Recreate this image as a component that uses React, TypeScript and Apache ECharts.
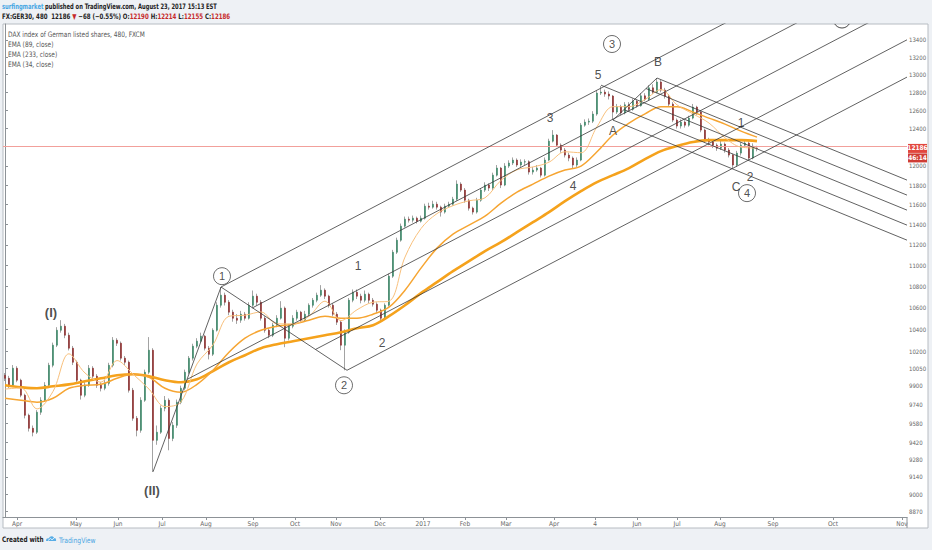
import React, { useEffect, useRef } from "react";
import * as echarts from "echarts";

const FONT = '"Liberation Sans Narrow", "DejaVu Sans Condensed", "Liberation Sans", Arial, sans-serif';
const LABEL_FONT = '"Liberation Sans", Arial, sans-serif';

// ---- candles (one candle ~ two trading days) ----
const opens = [9990,9964,9903,10052,9947,9817,9646,9537,9504,9672,9774,9903,10078,10257,10392,10429,10347,10230,10105,9947,9817,9903,10052,9982,9903,9877,9920,10078,10302,10275,10141,10105,9860,9621,9520,9774,10017,10212,9437,9504,9706,9774,9453,9562,9757,9877,10017,10141,10248,10293,10338,10230,10176,10392,10622,10716,10650,10558,10502,10484,10539,10502,10622,10707,10650,10502,10392,10347,10438,10502,10595,10320,10429,10502,10558,10484,10539,10622,10669,10716,10763,10707,10622,10539,10466,10257,10374,10669,10744,10707,10669,10725,10669,10632,10576,10502,10622,10896,11127,11245,11384,11454,11444,11464,11434,11464,11585,11575,11605,11575,11525,11585,11605,11656,11811,11749,11646,11565,11525,11646,11749,11801,11770,11904,11978,11801,11999,12031,12062,12010,12041,12045,11936,11957,11978,11904,12062,12264,12329,12221,12168,12115,12083,12010,12062,12437,12470,12480,12558,12791,12802,12780,12758,12580,12640,12570,12660,12610,12700,12650,12760,12720,12850,12800,12916,12825,12758,12668,12492,12427,12470,12437,12514,12635,12580,12383,12275,12254,12221,12189,12232,12168,12115,12010,12136,12221,12243,12083,12190];
const highs = [10010,9985,10080,10070,9960,9830,9660,9560,9690,9800,9930,10100,10280,10420,10484,10450,10370,10250,10120,9960,9930,10080,10070,10000,9930,9950,10100,10330,10320,10290,10160,10120,9880,9640,9800,10040,10330,10230,9560,9730,9810,9790,9590,9780,9900,10040,10160,10270,10320,10370,10350,10250,10410,10650,10793,10740,10670,10580,10540,10570,10560,10650,10760,10730,10670,10520,10410,10460,10530,10660,10610,10450,10530,10580,10570,10570,10640,10690,10740,10811,10780,10720,10640,10560,10480,10400,10690,10770,10770,10730,10760,10740,10690,10650,10590,10640,10920,11150,11270,11410,11480,11480,11490,11480,11490,11610,11620,11640,11630,11590,11610,11630,11680,11850,11830,11770,11660,11580,11670,11770,11830,11820,11930,12010,11990,12030,12060,12090,12080,12070,12070,12060,11990,12010,11990,12090,12290,12383,12340,12240,12190,12140,12100,12090,12460,12500,12510,12590,12820,12871,12830,12810,12770,12670,12660,12690,12690,12730,12720,12790,12790,12880,12890,12961,12940,12850,12780,12690,12510,12500,12490,12540,12670,12650,12600,12400,12300,12280,12240,12270,12250,12190,12130,12160,12250,12280,12260,12240,12214];
const lows = [9940,9880,9890,9930,9800,9620,9510,9470,9490,9650,9760,9890,10060,10240,10370,10320,10210,10080,9920,9780,9800,9890,9960,9880,9850,9860,9900,10060,10250,10120,10080,9840,9600,9470,9500,9760,10000,9180,9400,9490,9680,9355,9430,9540,9740,9860,10000,10120,10230,10280,10210,10130,10160,10380,10600,10620,10530,10470,10450,10460,10480,10490,10600,10620,10480,10370,10320,10330,10420,10490,10239,10300,10410,10480,10460,10470,10520,10600,10650,10700,10680,10600,10520,10440,10212,10034,10360,10650,10680,10640,10650,10640,10610,10550,10466,10490,10610,10880,11110,11230,11370,11420,11420,11410,11420,11450,11550,11560,11550,11480,11510,11570,11590,11640,11730,11620,11540,11500,11510,11630,11730,11740,11750,11890,11770,11790,11980,12010,11990,11990,12010,11910,11910,11940,11880,11890,12050,12250,12200,12140,12090,12050,11978,11990,12050,12420,12440,12460,12540,12770,12750,12720,12492,12560,12545,12555,12590,12595,12630,12640,12700,12710,12780,12790,12800,12730,12640,12470,12400,12400,12410,12420,12500,12550,12360,12250,12220,12190,12160,12170,12140,12090,11978,11990,12110,12200,12060,12070,12155];
const closes = [9964,9903,10052,9947,9817,9646,9537,9504,9672,9774,9903,10078,10257,10392,10429,10347,10230,10105,9947,9817,9903,10052,9982,9903,9877,9920,10078,10302,10275,10141,10105,9860,9621,9520,9774,10017,10212,9437,9504,9706,9774,9453,9562,9757,9877,10017,10141,10248,10293,10338,10230,10176,10392,10622,10716,10650,10558,10502,10484,10539,10502,10622,10707,10650,10502,10392,10347,10438,10502,10595,10320,10429,10502,10558,10484,10539,10622,10669,10716,10763,10707,10622,10539,10466,10257,10374,10669,10744,10707,10669,10725,10669,10632,10576,10502,10622,10896,11127,11245,11384,11454,11444,11464,11434,11464,11585,11575,11605,11575,11525,11585,11605,11656,11811,11749,11646,11565,11525,11646,11749,11801,11770,11904,11978,11801,11999,12031,12062,12010,12041,12045,11936,11957,11978,11904,12062,12264,12329,12221,12168,12115,12083,12010,12062,12437,12470,12480,12558,12791,12802,12780,12758,12580,12640,12570,12660,12610,12700,12650,12760,12720,12850,12800,12916,12825,12758,12668,12492,12427,12470,12437,12514,12635,12580,12383,12275,12254,12221,12189,12232,12168,12115,12010,12136,12221,12243,12083,12211,12186];

// ---- EMA readings (sampled every 4 candles) ----
const emaIndex = [0,4,8,12,16,20,24,28,32,36,40,44,48,52,56,60,64,68,72,76,80,84,88,92,96,100,104,108,112,116,120,124,128,132,136,140,144,148,152,156,160,164,168,172,176,180,184,188];
const ema89 = [9791,9774,9757,9791,9877,9903,9911,9964,9999,9973,9877,9843,9911,10034,10194,10320,10392,10429,10447,10484,10521,10502,10502,10539,10604,10763,10973,11167,11305,11394,11484,11615,11728,11811,11894,11957,11999,12150,12330,12460,12560,12640,12640,12580,12514,12448,12372,12307];
const ema233 = [9903,9886,9877,9894,9911,9938,9964,9990,9999,9982,9947,9929,9955,10026,10105,10167,10230,10266,10293,10320,10347,10374,10411,10438,10521,10622,10735,10839,10944,11040,11137,11225,11324,11424,11525,11636,11739,11832,11904,11978,12072,12157,12211,12254,12275,12275,12275,12264];
const ema34 = [9870,9880,9700,9850,10180,10010,9930,10120,10000,9870,9720,9760,10090,10260,10520,10530,10560,10450,10450,10520,10660,10480,10580,10650,10660,11080,11360,11510,11590,11640,11670,11850,11960,11990,12040,12150,12140,12420,12640,12640,12720,12830,12660,12560,12460,12300,12200,12190];

// ---- axes ----
const monthTicks = [3,17.75,28.25,39.25,50.25,62,72.5,82.75,93.75,104.5,115,125.25,137.25,147.5,158,168,178.75,192,207,224.25];
const monthLabels = ["Apr","May","Jun","Jul","Aug","Sep","Oct","Nov","Dec","2017","Feb","Mar","Apr","4","Jun","Jul","Aug","Sep","Oct","Nov"];
const priceTicks = [13400,13200,13000,12800,12600,12400,12000,11800,11600,11400,11200,11000,10800,10600,10400,10200,10050,9900,9740,9580,9420,9280,9140,9000,8870];
const lastPrice = 12186;
const countdown = "46:14";

// ---- drawings: pitchfork anchors [candle index, price] ----
const schiffFork = [[37, 9180], [54, 10793], [85.5, 10034]];
const andrewsFork = [[149, 12880], [152, 12492], [163, 12961]];
const forkLevels = [-1, -0.5, 0, 0.5, 1];

// ---- wave labels ----
const waveText = ["(I)", "(II)", "1", "2", "3", "4", "5", "A", "B", "C", "1", "2"];
const waveX = [11.5, 36.75, 88.25, 94.25, 136.25, 142, 148.25, 152, 163.25, 182.75, 184, 186.25];
const waveY = [10557, 9033, 10991, 10275, 12514, 11790, 12995, 12372, 13144, 11780, 12459, 11883];
const circleText = ["1", "2", "3", "4"];
const circleX = [54.25, 84.75, 151.75, 185.5];
const circleY = [10896, 9903, 13353, 11718];

const XMIN = -0.5;
const XMAX = 225.5;
const YMIN = 8824;
const YMAX = 13589;
const L = Math.log;

const UP = "#3d8a69";
const DOWN = "#8e2e2e";
const WICK = "#a3a3a3";
const LINE = "#3a3a3a";
const BG = "#eef1f5";

function forkSegments(anchors: number[][], schiff: boolean) {
  const P = anchors.map(([x, p]) => [x, L(p)]);
  const [P0, P1, P2] = P;
  const M = [(P1[0] + P2[0]) / 2, (P1[1] + P2[1]) / 2];
  const S = schiff ? [(P0[0] + P1[0]) / 2, (P0[1] + P1[1]) / 2] : P0;
  const slope = (M[1] - S[1]) / (M[0] - S[0]);
  const segs: number[][][] = forkLevels.map((k) => {
    const q = k === 0 ? S : [M[0] + k * (P2[0] - M[0]), M[1] + k * (P2[1] - M[1])];
    return [q, [XMAX, q[1] + slope * (XMAX - q[0])]];
  });
  segs.push([P1, P2]);
  if (schiff) segs.push([P0, P1]);
  return segs;
}

let logoRegistered = false;
function registerLogo() {
  if (logoRegistered) return;
  const d = "M0,9 C0,6 2,5 4,5.5 C5,2 9.5,1 11,4.5 C13,4.2 14.5,6 14,9 Z";
  echarts.graphic.registerShape("tvlogo", echarts.graphic.extendPath(d, {}) as any);
  logoRegistered = true;
}

export default function App() {
  const ref = useRef<HTMLDivElement>(null);
  useEffect(() => {
    if (!ref.current) return;
    registerLogo();
    const chart = echarts.init(ref.current, undefined, { renderer: "svg" });

    const idx = closes.map((_, i) => i);
    const wickData = idx.map((i) => [i, L(opens[i]), L(closes[i]), L(lows[i]), L(highs[i])]);
    const bodyData = idx.map((i) => [
      i,
      L(opens[i]),
      L(closes[i]),
      L(Math.min(opens[i], closes[i])),
      L(Math.max(opens[i], closes[i])),
    ]);
    const emaLine = (vals: number[], color: string, width: number, z: number) => ({
      type: "line",
      data: emaIndex.map((x, k) => [x, L(vals[k])]),
      symbol: "none",
      smooth: 0.35,
      lineStyle: { color, width },
      silent: true,
      z,
    });
    const segs = [...forkSegments(schiffFork, true), ...forkSegments(andrewsFork, false)];
    const forkSeries = segs.map((s) => ({
      type: "line",
      data: s,
      symbol: "none",
      lineStyle: { color: LINE, width: 0.8 },
      silent: true,
      z: 6,
    }));

    const labelFor = (v: number) => {
      let best = 0;
      for (let i = 1; i < monthTicks.length; i++) {
        if (Math.abs(monthTicks[i] - v) < Math.abs(monthTicks[best] - v)) best = i;
      }
      return monthLabels[best];
    };

    const textG = (id: string, x: number, y: number, text: string, extra: any = {}, sx = 1) => ({
      type: "text",
      id,
      x,
      y,
      scaleX: sx,
      z: 60,
      style: {
        text,
        fill: "#555",
        fontSize: 7.5,
        fontFamily: FONT,
        verticalAlign: "middle",
        ...extra,
      },
    });

    const option: any = {
      animation: false,
      backgroundColor: BG,
      grid: { left: 3, right: 25, top: 24, bottom: 33, containLabel: false },
      xAxis: {
        type: "value",
        min: XMIN,
        max: XMAX,
        axisLine: { show: true, lineStyle: { color: "#8d9297", width: 1 } },
        axisTick: { show: true, customValues: monthTicks, length: 3, lineStyle: { color: "#8d9297" } },
        axisLabel: {
          show: true,
          customValues: monthTicks,
          formatter: (v: number) => labelFor(v),
          fontSize: 6.5,
          color: "#666",
          margin: 3,
          fontFamily: FONT,
        },
        splitLine: { show: false },
      },
      yAxis: {
        type: "value",
        position: "right",
        min: L(YMIN),
        max: L(YMAX),
        axisLine: { show: true, lineStyle: { color: "#8d9297", width: 1 } },
        axisTick: { show: true, customValues: priceTicks.map(L), length: 3, lineStyle: { color: "#8d9297" } },
        axisLabel: {
          show: true,
          customValues: priceTicks.map(L),
          formatter: (v: number) => String(Math.round(Math.exp(v))),
          fontSize: 6,
          color: "#666",
          margin: 2,
          fontFamily: FONT,
        },
        splitLine: { show: false },
      },
      series: [
        {
          type: "candlestick",
          data: wickData,
          encode: { x: 0, y: [1, 2, 3, 4] },
          barWidth: 1,
          itemStyle: { color: WICK, color0: WICK, borderColor: WICK, borderColor0: WICK, borderWidth: 1 },
          silent: true,
          z: 3,
        },
        {
          type: "candlestick",
          data: bodyData,
          encode: { x: 0, y: [1, 2, 3, 4] },
          barWidth: 2.4,
          itemStyle: { color: UP, color0: DOWN, borderColor: UP, borderColor0: DOWN, borderWidth: 0.6 },
          silent: true,
          z: 4,
          markLine: {
            silent: true,
            symbol: "none",
            label: { show: false },
            lineStyle: { color: "#f2a09b", width: 1, type: "solid" },
            data: [{ yAxis: L(lastPrice) }],
          },
        },
        emaLine(ema233, "#f5a21c", 2.6, 5),
        emaLine(ema89, "#f6a532", 1.5, 5),
        emaLine(ema34, "#f8c07c", 1, 5),
        ...forkSeries,
        {
          type: "scatter",
          symbol: "circle",
          symbolSize: 1,
          itemStyle: { color: "rgba(0,0,0,0)" },
          silent: true,
          z: 8,
          data: waveX.map((x, k) => ({
            value: [x, L(waveY[k])],
            label: {
              show: true,
              position: "inside",
              formatter: waveText[k],
              fontSize: k < 2 ? 13 : 12,
              fontWeight: k < 2 ? "bold" : "normal",
              color: "#222",
              fontFamily: LABEL_FONT,
            },
          })),
        },
        {
          type: "scatter",
          symbol: "circle",
          symbolSize: 17,
          itemStyle: { color: "rgba(0,0,0,0)", borderColor: "#333", borderWidth: 0.9 },
          silent: true,
          z: 8,
          data: circleX.map((x, k) => ({
            value: [x, L(circleY[k])],
            label: {
              show: true,
              position: "inside",
              formatter: circleText[k],
              fontSize: 11,
              color: "#222",
              fontFamily: LABEL_FONT,
            },
          })),
        },
      ],
      graphic: [
        {
          type: "rect",
          id: "panel",
          shape: { x: 3, y: 24, width: 925, height: 504 },
          style: { fill: "#ffffff", stroke: "#b7bcc2", lineWidth: 1 },
          z: -100,
          silent: true,
        },
        {
          type: "line",
          id: "axsep",
          shape: { x1: 907, y1: 517, x2: 907, y2: 528 },
          style: { stroke: "#8d9297", lineWidth: 1 },
          z: 1,
        },
        {
          type: "arc",
          id: "c5",
          shape: { cx: 842, cy: 19.5, r: 8.5, startAngle: 0.55, endAngle: Math.PI - 0.55, clockwise: true },
          style: { fill: "none", stroke: "#333", lineWidth: 0.9 },
          z: 10,
        },
        textG(
          "h1",
          2,
          6.5,
          "{u|surfingmarket} {t|published on TradingView.com, August 23, 2017 15:13 EST}",
          {
            rich: {
              u: { fill: "#47a6e3", fontSize: 7.5, fontFamily: FONT, fontWeight: "bold" },
              t: { fill: "#222", fontSize: 7.5, fontFamily: FONT, fontWeight: "bold" },
            },
          },
          0.77
        ),
        textG(
          "h2",
          2,
          16.5,
          "{b|FX:GER30, 480  12186 }{r|▼ }{b|−68 (−0.55%) O:}{r|12190}{b| H:}{r|12214}{b| L:}{r|12155}{b| C:}{r|12186}",
          {
            rich: {
              b: { fill: "#222", fontSize: 7.5, fontFamily: FONT, fontWeight: "bold" },
              r: { fill: "#c62a2a", fontSize: 7.5, fontFamily: FONT, fontWeight: "bold" },
            },
          },
          0.81
        ),
        textG("lg1", 8, 34.5, "DAX index of German listed shares, 480, FXCM", {}, 0.87),
        textG("lg2", 8, 44.5, "EMA (89, close)", {}, 0.87),
        textG("lg3", 8, 54.5, "EMA (233, close)", {}, 0.87),
        textG("lg4", 8, 64.5, "EMA (34, close)", {}, 0.87),
        textG("ft1", 2, 540, "Created with", { fill: "#222", fontWeight: "bold", fontSize: 7.5 }, 0.85),
        {
          type: "tvlogo",
          id: "logo",
          x: 46,
          y: 534.5,
          scaleX: 0.72,
          scaleY: 0.72,
          style: { fill: "#58ade6" },
          z: 60,
        },
        {
          type: "polyline",
          id: "logoline",
          shape: { points: [[48, 540.5], [50.5, 538.5], [52, 539.8], [55, 537.3]] },
          style: { stroke: "#ffffff", lineWidth: 0.8, fill: "none" },
          z: 61,
        },
        textG("ft2", 59, 540, "TradingView", { fill: "#4aa6e2", fontSize: 7.5 }, 0.9),
      ],
    };

    chart.setOption(option);

    const yPix = chart.convertToPixel({ yAxisIndex: 0 }, L(lastPrice)) as unknown as number;
    if (typeof yPix === "number" && isFinite(yPix)) {
      chart.setOption({
        graphic: [
          {
            type: "rect",
            id: "pbox",
            shape: { x: 908, y: yPix - 4.5, width: 19, height: 9 },
            style: { fill: "#e2463d" },
            z: 70,
          },
          {
            type: "text",
            id: "ptxt",
            x: 917.5,
            y: yPix,
            z: 71,
            style: {
              text: String(lastPrice),
              fill: "#fff",
              fontSize: 6.5,
              fontFamily: FONT,
              fontWeight: "bold",
              align: "center",
              verticalAlign: "middle",
            },
          },
          {
            type: "rect",
            id: "cbox",
            shape: { x: 908, y: yPix + 5, width: 19, height: 9 },
            style: { fill: "#cf3d35" },
            z: 70,
          },
          {
            type: "text",
            id: "ctxt",
            x: 917.5,
            y: yPix + 9.5,
            z: 71,
            style: {
              text: countdown,
              fill: "#fff",
              fontSize: 6.5,
              fontFamily: FONT,
              fontWeight: "bold",
              align: "center",
              verticalAlign: "middle",
            },
          },
        ],
      });
    }

    return () => {
      chart.dispose();
    };
  }, []);

  return (
    <div
      ref={ref}
      style={{ position: "fixed", left: 0, top: 0, width: 932, height: 550 }}
    />
  );
}
